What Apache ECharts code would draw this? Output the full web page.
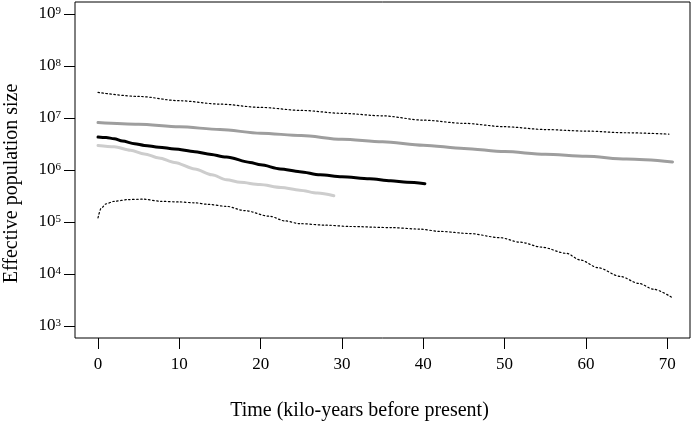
<!DOCTYPE html>
<html>
<head>
<meta charset="utf-8">
<script src="https://cdn.jsdelivr.net/npm/echarts@6/dist/echarts.min.js"></script>
<style>
  html, body { margin: 0; padding: 0; background: #fff; }
  #chart { width: 692px; height: 421px; }
</style>
</head>
<body>
<div id="chart"></div>
<script>
// time in kilo-years before present, Ne
var xTicks = [0, 10, 20, 30, 40, 50, 60, 70]

var upperX = [0, 5, 10, 15, 20, 25, 30, 35, 40, 45, 50, 55, 60, 65, 70.2]
var upperY = [3.1e7, 2.6e7, 2.15e7, 1.85e7, 1.6e7, 1.4e7, 1.23e7, 1.1e7, 9.1e6, 7.9e6, 6.8e6, 6.0e6, 5.6e6, 5.2e6, 4.9e6]

var darkX = [0, 5, 10, 15, 20, 25, 30, 35, 40, 45, 50, 55, 60, 65, 70.65]
var darkY = [8.2e6, 7.6e6, 6.8e6, 6.0e6, 5.1e6, 4.6e6, 3.9e6, 3.5e6, 3.0e6, 2.6e6, 2.26e6, 2.0e6, 1.84e6, 1.62e6, 1.43e6]

var blackX = [0, 1, 2, 3, 4.5, 5.7, 7.5, 9.4, 11.9, 13.5, 15.8, 18.7, 20, 22.4, 24.8, 27.3, 30, 33.4, 36, 38, 40.2]
var blackY = [4.3e6, 4.2e6, 4.0e6, 3.6e6, 3.2e6, 2.97e6, 2.75e6, 2.54e6, 2.25e6, 2.04e6, 1.78e6, 1.4e6, 1.26e6, 1.05e6, 9.3e5, 8.1e5, 7.4e5, 6.8e5, 6.2e5, 5.8e5, 5.45e5]

var lightX = [0, 2, 4, 5.7, 7.5, 9.4, 11.9, 14, 15.8, 17.5, 19.9, 22.5, 24.8, 27, 29]
var lightY = [2.97e6, 2.8e6, 2.4e6, 2.04e6, 1.7e6, 1.4e6, 1.05e6, 8.1e5, 6.5e5, 5.8e5, 5.25e5, 4.6e5, 4.1e5, 3.6e5, 3.2e5]

var lowerX = [0, 0.4, 1, 2, 3.7, 5.5, 7.8, 10, 11.9, 13.5, 15.8, 18, 21.1, 23, 24.8, 28, 31, 36, 39.6, 42, 45.7, 49.4, 51.9, 54.5, 57.6, 59.3, 61.5, 64.2, 66.5, 68.3, 70.5]
var lowerY = [1.2e5, 1.86e5, 2.24e5, 2.5e5, 2.7e5, 2.75e5, 2.5e5, 2.43e5, 2.34e5, 2.19e5, 2.0e5, 1.66e5, 1.29e5, 1.05e5, 9.3e4, 8.7e4, 8.2e4, 7.8e4, 7.3e4, 6.6e4, 6.0e4, 5.0e4, 4.1e4, 3.3e4, 2.5e4, 1.86e4, 1.32e4, 9.0e3, 6.6e3, 5.1e3, 3.6e3]

function pairs(xs, ys) {
    return xs.map((x, i) => [x, ys[i]])
}

var serif = "Liberation Serif"

function lineSeries(name, xs, ys, color, width, type) {
    return {
        name: name,
        type: "line",
        xAxisIndex: 1,
        yAxisIndex: 1,
        data: pairs(xs, ys),
        showSymbol: false,
        smooth: 0.3,
        smoothMonotone: "x",
        clip: false,
        lineStyle: { color: color, width: width, type: type || "solid", cap: "round" }
    }
}

var chart = echarts.init(document.getElementById("chart"))
chart.setOption({
    animation: false,
    backgroundColor: "#fff",
    grid: [
        // frame box
        { left: 75, right: 2, top: 2, bottom: 83, show: true, borderColor: "#000", borderWidth: 1, backgroundColor: "transparent", outerBoundsMode: "none", containLabel: false },
        // data area
        { left: 75, right: 2, top: 14, bottom: 95, outerBoundsMode: "none", containLabel: false }
    ],
    xAxis: [
        { gridIndex: 0, type: "value", show: false, min: 0, max: 1 },
        {
            gridIndex: 1,
            type: "value",
            min: -2.83,
            max: 72.8,
            offset: 12,
            axisLine: { show: false, onZero: false },
            splitLine: { show: false },
            axisTick: { show: true, length: 11, customValues: xTicks, lineStyle: { color: "#000", width: 1 } },
            axisLabel: { customValues: xTicks, margin: 18, color: "#000", fontFamily: serif, fontSize: 17 },
            name: "Time (kilo-years before present)",
            nameLocation: "middle",
            nameGap: 63,
            nameTextStyle: { color: "#000", fontFamily: serif, fontSize: 20, padding: [0, 46, 0, 0] }
        }
    ],
    yAxis: [
        { gridIndex: 0, type: "value", show: false, min: 0, max: 1 },
        {
            gridIndex: 1,
            type: "log",
            logBase: 10,
            min: 1e3,
            max: 1e9,
            axisLine: { show: false, onZero: false },
            splitLine: { show: false },
            axisTick: { show: true, length: 11, lineStyle: { color: "#000", width: 1 } },
            axisLabel: {
                margin: 14,
                color: "#000",
                fontFamily: serif,
                fontSize: 17,
                formatter: v => "10{s|" + Math.round(Math.log10(v)) + "}",
                rich: {
                    s: { fontFamily: serif, fontSize: 11, verticalAlign: "top", color: "#000" }
                }
            },
            name: "Effective population size",
            nameLocation: "middle",
            nameGap: 53,
            nameTextStyle: { color: "#000", fontFamily: serif, fontSize: 20, padding: [0, 27, 0, 0] }
        }
    ],
    series: [
        lineSeries("upper", upperX, upperY, "#000", 1.2, [1.5, 2.5]),
        lineSeries("lower", lowerX, lowerY, "#000", 1.2, [1.5, 2.5]),
        lineSeries("dark grey", darkX, darkY, "#9e9e9e", 3),
        lineSeries("light grey", lightX, lightY, "#cdcdcd", 3),
        lineSeries("black", blackX, blackY, "#000", 3)
    ]
})
</script>
</body>
</html>
